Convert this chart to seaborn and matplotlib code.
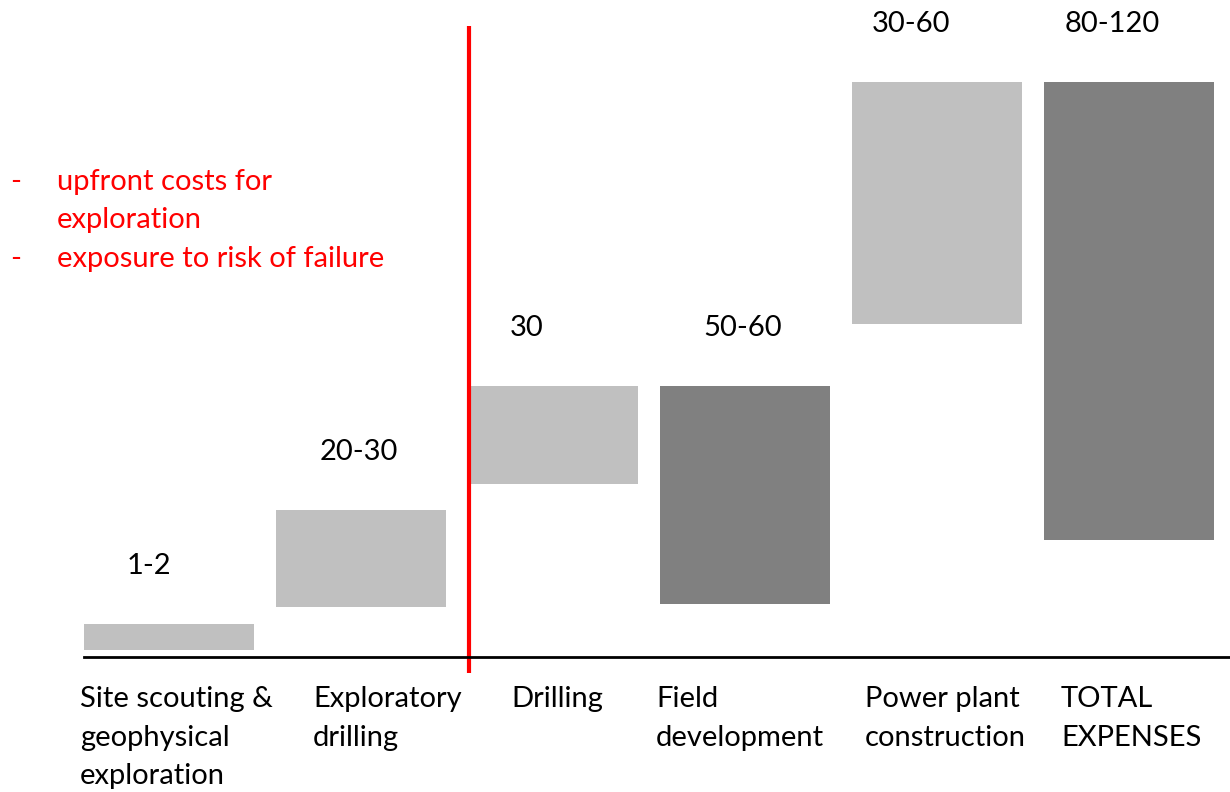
import matplotlib
matplotlib.use("Agg")
import matplotlib.pyplot as plt
import seaborn as sns
import pandas as pd

# chart data (units: arbitrary cost scale, axis line = 0)
categories = ["Site scouting &\ngeophysical\nexploration", "Exploratory\ndrilling", "Drilling",
              "Field\ndevelopment", "Power plant\nconstruction", "TOTAL\nEXPENSES"]
bar_bottoms = [1.5, 10.4, 36.0, 11.0, 69.4, 24.4]
bar_tops = [6.9, 30.6, 56.5, 56.5, 119.8, 119.8]
cost_labels = ["1-2", "20-30", "30", "50-60", "30-60", "80-120"]
bar_colors = ["#c0c0c0", "#c0c0c0", "#c0c0c0", "#808080", "#c0c0c0", "#808080"]
risk_notes = ["upfront costs for", "exploration", "exposure to risk of failure"]
note_dash = [True, False, True]

# layout helpers (pixels -> data units)
px_x = 192.0   # pixels per category
px_y = 4.8     # pixels per value unit
bar_w = 170 / px_x
label_dx = [43, 44, 42, 43, 20, 21]      # label left offset from bar edge, px
cat_dx = [-4, 37, 43, -4, 13, 17]        # category text offset from bar edge, px

sns.set_theme(style="white")
plt.rcParams['font.family'] = ['Lato', 'DejaVu Sans']
fs = 21

fig = plt.figure(figsize=(12.3, 7.92), dpi=100)
ax = fig.add_axes([84 / 1230, 1 - 657 / 792, 1146 / 1230, 657 / 792])

df = pd.DataFrame({"cat": categories,
                   "height": [t - b for t, b in zip(bar_tops, bar_bottoms)]})
sns.barplot(data=df, x="cat", y="height", bottom=bar_bottoms, width=bar_w,
            color="#c0c0c0", saturation=1, ax=ax, errorbar=None)
for patch, c in zip(ax.patches, bar_colors):
    patch.set_facecolor(c)
    patch.set_edgecolor("none")

ax.set_xlim(-85 / px_x, 1061 / px_x)
ax.set_ylim(0, 657 / px_y)

for i, (lab, top) in enumerate(zip(cost_labels, bar_tops)):
    ax.text(i - bar_w / 2 + label_dx[i] / px_x, top + 58 / px_y, lab,
            ha="left", va="center", fontsize=fs, color="black")

for i, cat in enumerate(categories):
    ax.text(i - bar_w / 2 + cat_dx[i] / px_x, -29 / px_y, cat, ha="left", va="top",
            fontsize=fs, color="black", linespacing=1.6, clip_on=False)

# separation between exploration phase and development
ax.plot([300 / px_x, 300 / px_x], [-16 / px_y, 631 / px_y], color="#ff0000",
        linewidth=3, clip_on=False, solid_capstyle="butt")

for k, (note, dash) in enumerate(zip(risk_notes, note_dash)):
    ypos = 1 - (182 + 38.5 * k) / 792
    if dash:
        fig.text(10 / 1230, ypos, "-", color="#ff0000", fontsize=fs, va="center", ha="left")
    fig.text(57 / 1230, ypos, note, color="#ff0000", fontsize=fs, va="center", ha="left")

sns.despine(ax=ax, left=True, top=True, right=True)
ax.spines["bottom"].set_color("black")
ax.spines["bottom"].set_linewidth(2)
ax.set_xticks([])
ax.set_yticks([])
ax.set_xlabel("")
ax.set_ylabel("")

fig.savefig("out.png", dpi=100)
